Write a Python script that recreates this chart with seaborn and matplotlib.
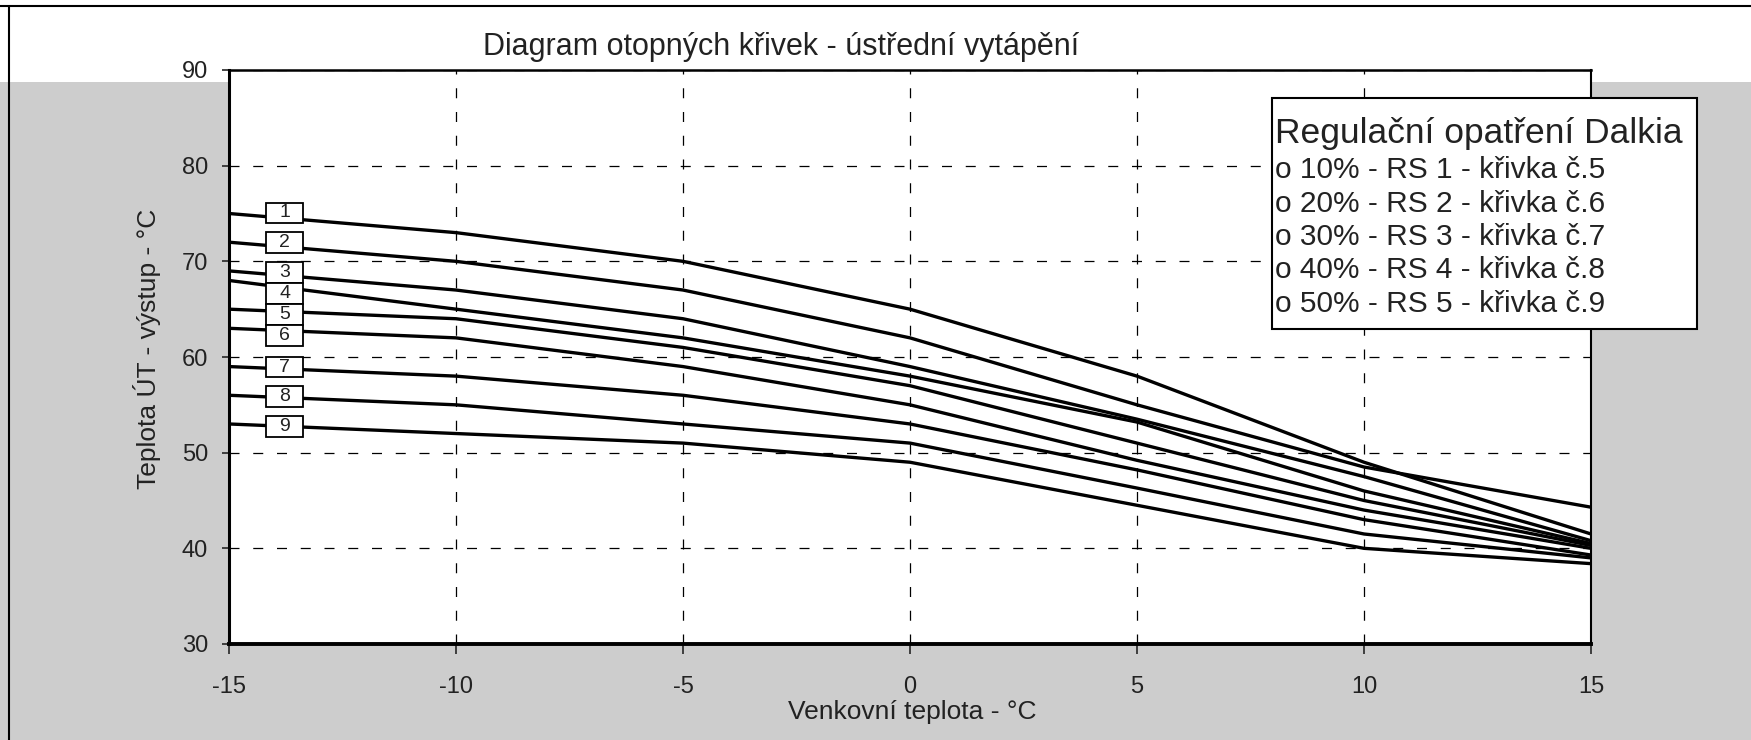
import matplotlib
matplotlib.use("Agg")
import matplotlib.pyplot as plt
from matplotlib.patches import Rectangle
from matplotlib.lines import Line2D
import pandas as pd
import seaborn as sns

# outdoor temperature (deg C) at the break points of the heating curves
outdoor_temp = [-15, -10, -5, 0, 5, 10, 15]

# supply temperature of each heating curve (deg C)
curve_1 = [75, 73, 70, 65, 58, 49, 41.5]
curve_2 = [72, 70, 67, 62, 55, 48.5, 44.3]
curve_3 = [69, 67, 64, 59, 53.5, 47.5, 40.8]
curve_4 = [68, 65, 62, 58, 53.2, 46, 40.5]
curve_5 = [65, 64, 61, 57, 51, 45, 40.3]
curve_6 = [63, 62, 59, 55, 49.2, 44, 40.0]
curve_7 = [59, 58, 56, 53, 48.2, 43, 39.3]
curve_8 = [56, 55, 53, 51, 46.3, 41.5, 39.0]
curve_9 = [53, 52, 51, 49, 44.5, 40, 38.4]

curve_names = ["1", "2", "3", "4", "5", "6", "7", "8", "9"]
curves = [curve_1, curve_2, curve_3, curve_4, curve_5,
          curve_6, curve_7, curve_8, curve_9]

x_ticks = [-15, -10, -5, 0, 5, 10, 15]
y_ticks = [30, 40, 50, 60, 70, 80, 90]

title = "Diagram otopných křivek - ústřední vytápění"
x_label = "Venkovní teplota - °C"
y_label = "Teplota ÚT - výstup - °C"

legend_title = "Regulační opatření Dalkia"
legend_lines = [
    "o 10% - RS 1 - křivka č.5",
    "o 20% - RS 2 - křivka č.6",
    "o 30% - RS 3 - křivka č.7",
    "o 40% - RS 4 - křivka č.8",
    "o 50% - RS 5 - křivka č.9",
]

# where the numbered boxes sit (data coords)
label_x = -13.77
label_y = [75.06, 71.98, 68.84, 66.63, 64.45, 62.28, 58.95, 55.9, 52.75]

# long table for seaborn
rows = []
for name, values in zip(curve_names, curves):
    for t, v in zip(outdoor_temp, values):
        rows.append({"venkovni": t, "vystup": v, "krivka": name})
df = pd.DataFrame(rows)

sns.set_theme(style="white")
plt.rcParams["font.family"] = ["Liberation Sans", "DejaVu Sans"]
plt.rcParams["axes.unicode_minus"] = False

W, H = 1751, 740
fig = plt.figure(figsize=(W / 100, H / 100), dpi=100, facecolor="#cdcdcd")

# white strip at the top of the scan and the black frame
fig.add_artist(Rectangle((0, 1 - 82 / H), 1, 82 / H, transform=fig.transFigure,
                         facecolor="white", edgecolor="none", zorder=-1))
fig.add_artist(Line2D([0, 1], [1 - 6 / H, 1 - 6 / H], transform=fig.transFigure,
                      color="black", lw=1.5))
fig.add_artist(Line2D([9 / W, 9 / W], [0, 1 - 6 / H], transform=fig.transFigure,
                      color="black", lw=1.5))

ax = fig.add_axes([229 / W, 1 - 644 / H, 1362 / W, 574 / H])
ax.set_facecolor("white")

sns.lineplot(
    data=df, x="venkovni", y="vystup", hue="krivka",
    palette=["black"] * len(curve_names), linewidth=2.4,
    legend=False, ax=ax,
)

# numbered boxes at the left end of each curve
for name, yc in zip(curve_names, label_y):
    ax.add_patch(Rectangle((label_x - 0.41, yc - 1.08), 0.82, 2.16,
                           facecolor="white", edgecolor="black", lw=1.3, zorder=4))
    ax.text(label_x, yc, name, ha="center", va="center", fontsize=14,
            color="#222222", zorder=5)

ax.set_xlim(-15, 15)
ax.set_ylim(30, 90)
ax.set_xticks(x_ticks)
ax.set_yticks(y_ticks)
ax.grid(True, color="black", lw=0.9, linestyle=(0, (8, 11)))
ax.set_axisbelow(True)

ax.tick_params(axis="x", direction="out", length=7, width=1.2, pad=16,
               labelsize=17, labelcolor="#222222", bottom=True)
ax.tick_params(axis="y", direction="out", length=5, width=1.2, pad=10,
               labelsize=17, labelcolor="#222222", left=True)

for side, lw in {"left": 2.2, "bottom": 2.8, "top": 1.8, "right": 1.5}.items():
    ax.spines[side].set_visible(True)
    ax.spines[side].set_color("black")
    ax.spines[side].set_linewidth(lw)

ax.set_xlabel(x_label, fontsize=19, color="#222222")
ax.set_ylabel(y_label, fontsize=19, color="#222222")
ax.xaxis.set_label_coords(0.5015, -0.098)
ax.yaxis.set_label_coords(-0.05, 0.514)

fig.text(781 / W, 1 - 47 / H, title, ha="center", va="center",
         fontsize=22, color="#222222")

# legend box with the regulation notes
fig.add_artist(Rectangle((1272 / W, 1 - 329 / H), 425 / W, 231 / H,
                         transform=fig.transFigure, facecolor="white",
                         edgecolor="black", lw=1.5, zorder=5))
fig.text(1275 / W, 1 - 134 / H, legend_title, ha="left", va="center",
         fontsize=25.5, color="#222222", zorder=6)
for i, line in enumerate(legend_lines):
    fig.text(1275 / W, 1 - (170 + 33.5 * i) / H, line, ha="left", va="center",
             fontsize=21.5, color="#222222", zorder=6)

fig.savefig("out.png", dpi=100, facecolor=fig.get_facecolor())
